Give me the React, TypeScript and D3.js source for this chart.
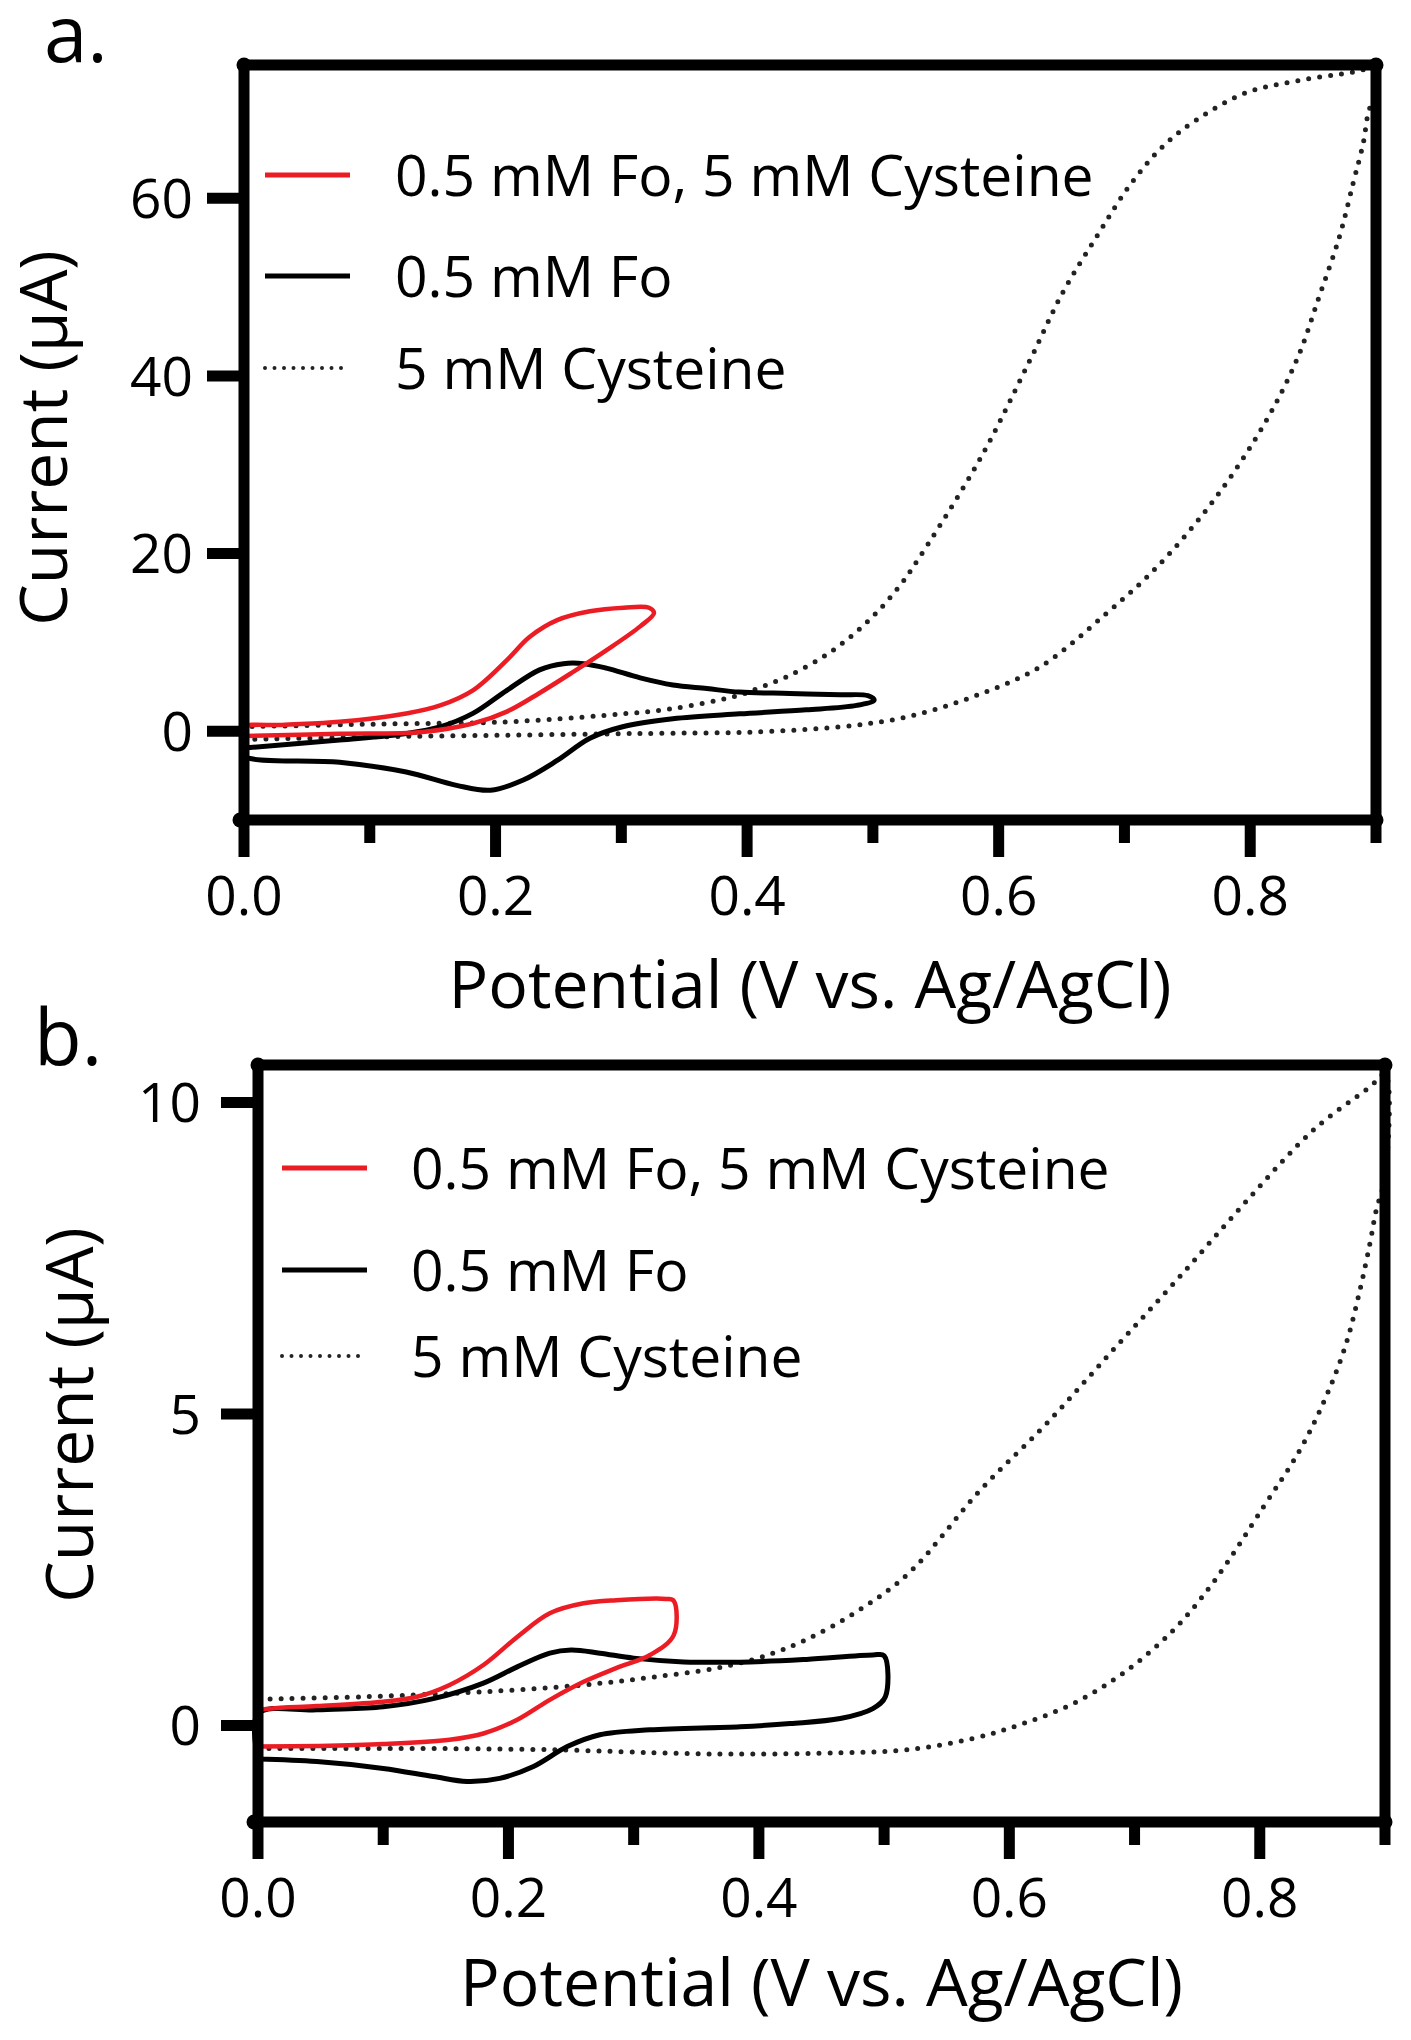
import React from 'react';
import * as d3 from 'd3';

type Pt = [number, number]; // [potential V, current µA]

// ---- panel a ----
const fcCysA: Pt[] = [
  [0.0, -0.55], [0.0, 0.45], [0.03, 0.7], [0.076, 1.05], [0.129, 2.0], [0.156, 2.9],
  [0.182, 4.6], [0.209, 8.0], [0.227, 10.6], [0.249, 12.5], [0.275, 13.5], [0.302, 13.9],
  [0.322, 13.9], [0.326, 13.3], [0.315, 11.8], [0.288, 9.1], [0.262, 6.7], [0.235, 4.3],
  [0.209, 2.2], [0.182, 0.86], [0.142, -0.08], [0.076, -0.3], [0.0, -0.55],
];
const fcA: Pt[] = [
  [0.0, -1.9], [0.076, -1.0], [0.129, -0.26], [0.156, 0.49], [0.182, 2.0], [0.209, 4.6],
  [0.235, 6.9], [0.254, 7.6], [0.27, 7.6], [0.288, 7.1], [0.315, 6.0], [0.341, 5.2],
  [0.368, 4.8], [0.394, 4.4], [0.434, 4.25], [0.474, 4.1], [0.496, 4.0], [0.501, 3.5],
  [0.487, 2.9], [0.447, 2.4], [0.394, 1.95], [0.341, 1.4], [0.301, 0.5], [0.275, -0.8],
  [0.249, -3.3], [0.222, -5.5], [0.196, -6.65], [0.169, -6.1], [0.129, -4.6],
  [0.076, -3.5], [0.0, -2.8], [0.0, -1.9],
];
const cysA: Pt[] = [
  [0.0, -0.95], [0.103, -0.64], [0.209, -0.45], [0.315, -0.26], [0.394, -0.15],
  [0.408, -0.08], [0.474, 0.49], [0.527, 1.6], [0.58, 3.9], [0.633, 7.25], [0.686, 13.3],
  [0.726, 18.5], [0.771, 26.0], [0.81, 34.3], [0.837, 41.8], [0.855, 49.0], [0.871, 55.7],
  [0.882, 61.8], [0.89, 66.3], [0.894, 69.7], [0.9, 72.0], [0.9, 74.6], [0.882, 74.2],
  [0.837, 73.2], [0.797, 71.9], [0.758, 68.9], [0.731, 65.9], [0.704, 61.4], [0.678, 55.7],
  [0.651, 49.4], [0.625, 41.8], [0.585, 30.6], [0.533, 18.7], [0.522, 16.5], [0.506, 13.8],
  [0.487, 11.2], [0.463, 8.6], [0.434, 6.3], [0.408, 4.8], [0.394, 4.06], [0.341, 2.55],
  [0.288, 1.8], [0.209, 1.05], [0.103, 0.79], [0.0, 0.5],
];

// ---- panel b ----
const fcCysB: Pt[] = [
  [0.0, -0.34], [0.0, 0.22], [0.01, 0.27], [0.047, 0.31], [0.1, 0.38], [0.127, 0.46],
  [0.153, 0.65], [0.18, 0.97], [0.207, 1.42], [0.233, 1.8], [0.26, 1.96], [0.286, 2.01],
  [0.326, 2.03], [0.332, 2.0], [0.332, 1.45], [0.313, 1.13], [0.286, 0.92], [0.26, 0.7],
  [0.233, 0.41], [0.207, 0.09], [0.18, -0.13], [0.153, -0.23], [0.1, -0.3], [0.047, -0.33],
  [0.0, -0.34],
];
const fcB: Pt[] = [
  [0.0, -0.54], [0.0, 0.19], [0.047, 0.25], [0.1, 0.3], [0.14, 0.43], [0.18, 0.68],
  [0.207, 0.94], [0.233, 1.16], [0.25, 1.21], [0.273, 1.16], [0.3, 1.08], [0.34, 1.02],
  [0.393, 1.02], [0.438, 1.06], [0.491, 1.13], [0.5, 1.12], [0.501, 0.46], [0.491, 0.27],
  [0.465, 0.11], [0.425, 0.03], [0.385, -0.02], [0.313, -0.07], [0.273, -0.15],
  [0.247, -0.34], [0.22, -0.66], [0.193, -0.85], [0.167, -0.9], [0.14, -0.82],
  [0.1, -0.69], [0.047, -0.58], [0.0, -0.54],
];
const cysB: Pt[] = [
  [0.0, -0.37], [0.127, -0.37], [0.233, -0.39], [0.34, -0.45], [0.393, -0.46],
  [0.465, -0.44], [0.518, -0.39], [0.571, -0.21], [0.611, 0.03], [0.651, 0.35],
  [0.691, 0.84], [0.731, 1.53], [0.763, 2.3], [0.803, 3.51], [0.832, 4.42], [0.853, 5.28],
  [0.869, 6.13], [0.88, 6.99], [0.888, 7.74], [0.893, 8.27], [0.9, 8.8], [0.9, 10.45],
  [0.888, 10.25], [0.843, 9.56], [0.79, 8.43], [0.736, 7.2], [0.683, 6.03], [0.63, 4.85],
  [0.577, 3.78], [0.52, 2.45], [0.48, 1.85], [0.438, 1.38], [0.401, 1.09], [0.366, 0.92],
  [0.313, 0.77], [0.26, 0.65], [0.18, 0.54], [0.1, 0.47], [0.0, 0.42],
];

const xMajor = [0, 0.2, 0.4, 0.6, 0.8];
const xMinor = [0.1, 0.3, 0.5, 0.7, 0.9];
const yTicksA = [0, 20, 40, 60];
const yTicksB = [0, 5, 10];
const legendLabels = ['0.5 mM Fo, 5 mM Cysteine', '0.5 mM Fo', '5 mM Cysteine'];

const FONT = '"Open Sans", "Noto Sans", sans-serif';
const RED = '#ec1c24';
const INK = '#000';

const seriesStyle = [
  { stroke: RED, width: 4.5, dash: undefined },
  { stroke: INK, width: 5, dash: undefined },
  { stroke: '#222', width: 5, dash: '0 11' },
];

interface PanelProps {
  letter: string;
  letterX: number;
  letterY: number;
  left: number;
  right: number;
  top: number;
  bottom: number;
  yDomain: [number, number];
  yTicks: number[];
  yLabelGap: number;
  yTitleX: number;
  yTitleY: number;
  xTitleY: number;
  legendX: number;
  legendTextX: number;
  legendY: number[];
  series: Pt[][];
}

const Panel: React.FC<PanelProps> = (p) => {
  const x = d3.scaleLinear().domain([0, 0.9]).range([p.left, p.right]);
  const y = d3.scaleLinear().domain(p.yDomain).range([p.bottom, p.top]);
  const line = d3
    .line<Pt>()
    .x((d) => x(d[0]))
    .y((d) => y(d[1]))
    .curve(d3.curveCatmullRom.alpha(0.5));
  const fx = d3.format('.1f');
  const tickW = 11;
  const majorLen = 37;
  const minorLen = 23;
  const corners: Pt[] = [
    [p.left, p.top], [p.right, p.top], [p.right, p.bottom], [p.left - 4, p.bottom],
  ];

  // draw order: dotted, black, red on top
  const order = [2, 1, 0];

  return (
    <g>
      <text x={p.letterX} y={p.letterY} fontFamily={FONT} fontSize={78} fill={INK}>
        {p.letter}
      </text>

      {order.map((k) => (
        <path
          key={k}
          d={line(p.series[k]) || ''}
          fill="none"
          stroke={seriesStyle[k].stroke}
          strokeWidth={seriesStyle[k].width}
          strokeDasharray={seriesStyle[k].dash}
          strokeLinecap="round"
          strokeLinejoin="round"
        />
      ))}

      {/* frame */}
      <rect
        x={p.left}
        y={p.top}
        width={p.right - p.left}
        height={p.bottom - p.top}
        fill="none"
        stroke={INK}
        strokeWidth={tickW}
        strokeLinejoin="round"
      />
      {corners.map((c, i) => (
        <circle key={i} cx={c[0]} cy={c[1]} r={7.5} fill={INK} />
      ))}

      {/* x ticks */}
      {xMajor.map((t) => (
        <g key={'M' + t}>
          <line x1={x(t)} x2={x(t)} y1={p.bottom} y2={p.bottom + majorLen} stroke={INK} strokeWidth={tickW} />
          <text
            x={x(t)}
            y={p.bottom + 95}
            textAnchor="middle"
            fontFamily={FONT}
            fontSize={55}
            fill={INK}
          >
            {fx(t)}
          </text>
        </g>
      ))}
      {xMinor.map((t) => (
        <line key={'m' + t} x1={x(t)} x2={x(t)} y1={p.bottom} y2={p.bottom + minorLen} stroke={INK} strokeWidth={tickW} />
      ))}

      {/* y ticks */}
      {p.yTicks.map((t) => (
        <g key={'y' + t}>
          <line x1={p.left - majorLen} x2={p.left} y1={y(t)} y2={y(t)} stroke={INK} strokeWidth={tickW} />
          <text
            x={p.left - p.yLabelGap}
            y={y(t)}
            dy="0.36em"
            textAnchor="end"
            fontFamily={FONT}
            fontSize={55}
            fill={INK}
          >
            {t}
          </text>
        </g>
      ))}

      {/* axis titles */}
      <text
        x={(p.left + p.right) / 2}
        y={p.xTitleY}
        textAnchor="middle"
        fontFamily={FONT}
        fontSize={66}
        fill={INK}
      >
        Potential (V vs. Ag/AgCl)
      </text>
      <text
        transform={`translate(${p.yTitleX},${p.yTitleY}) rotate(-90)`}
        textAnchor="middle"
        fontFamily={FONT}
        fontSize={66}
        fill={INK}
      >
        Current (µA)
      </text>

      {/* legend */}
      {legendLabels.map((lab, k) => (
        <g key={lab}>
          <line
            x1={p.legendX}
            x2={p.legendX + 85}
            y1={p.legendY[k]}
            y2={p.legendY[k]}
            stroke={seriesStyle[k].stroke}
            strokeWidth={k === 2 ? 4 : 5}
            strokeDasharray={k === 2 ? '0 9.5' : undefined}
            strokeLinecap={k === 2 ? 'round' : 'butt'}
          />
          <text
            x={p.legendTextX}
            y={p.legendY[k]}
            dy="0.36em"
            fontFamily={FONT}
            fontSize={57}
            fill={INK}
          >
            {lab}
          </text>
        </g>
      ))}
    </g>
  );
};

export default function App() {
  return (
    <div style={{ position: 'absolute', left: 0, top: 0 }}>
      <svg width={1411} height={2040} viewBox="0 0 1411 2040" style={{ display: 'block', background: '#fff' }}>
        <Panel
          letter="a."
          letterX={44}
          letterY={62}
          left={244}
          right={1376}
          top={65}
          bottom={820}
          yDomain={[-10, 75]}
          yTicks={yTicksA}
          yLabelGap={51}
          yTitleX={67}
          yTitleY={438}
          xTitleY={1008}
          legendX={265}
          legendTextX={395}
          legendY={[175, 276, 368]}
          series={[fcCysA, fcA, cysA]}
        />
        <Panel
          letter="b."
          letterX={34}
          letterY={1065}
          left={258}
          right={1385}
          top={1065}
          bottom={1822}
          yDomain={[-1.55, 10.6]}
          yTicks={yTicksB}
          yLabelGap={57}
          yTitleX={93}
          yTitleY={1415}
          xTitleY={2006}
          legendX={282}
          legendTextX={411}
          legendY={[1168, 1270, 1356]}
          series={[fcCysB, fcB, cysB]}
        />
      </svg>
    </div>
  );
}
